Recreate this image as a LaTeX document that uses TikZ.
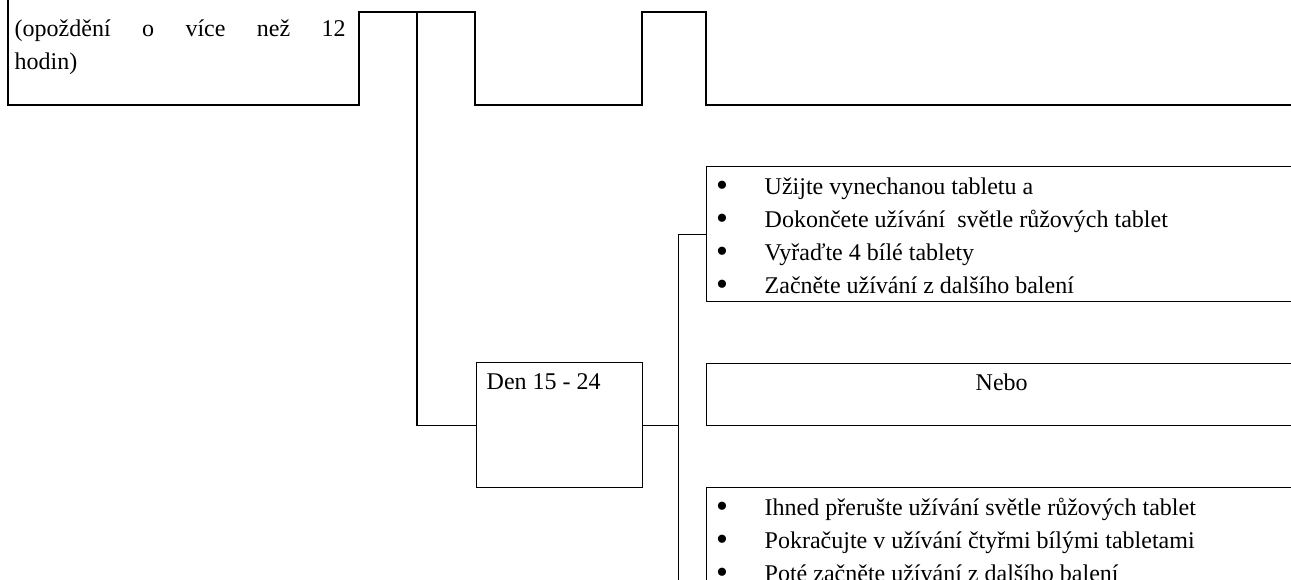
\documentclass[tikz,border=0pt]{standalone}
\usepackage{fontspec}
\setmainfont{Liberation Serif}
\usetikzlibrary{positioning}
\begin{document}
\begin{tikzpicture}[x=0.5pt,y=-0.5pt,line width=0.7pt,
  every node/.style={inner sep=0pt,font=\fontsize{12pt}{16.5pt}\selectfont},
  frame/.style={draw,anchor=north west,minimum width=295pt},
  txt/.style={anchor=base west},
  bul/.style={anchor=base},
  dot/.style={anchor=base,font=\fontsize{17pt}{17pt}\selectfont}]
\useasboundingbox (0,0) rectangle (1291,579);
\clip (0,0) rectangle (1291,579);
\draw (8,-5) -- (8,105) -- (359,105) -- (359,12) -- (475,12) -- (475,105) -- (642,105)
  -- (642,12) -- (706,12) -- (706,105) -- (1300,105);
\coordinate (ja) at (417,12);
\node [anchor=base west,text width=165.5pt,align=justify] (delay) at (14,36)
  {(opoždění o více než 12\linebreak hodin)};
\node [frame,minimum width=83pt,minimum height=62.5pt] (den) at (476,362) {};
\node [txt] (denlbl) at ([shift={(10,27)}]den.north west) {Den 15 - 24};
\node [frame,minimum height=31pt] (nebo) at (706,363) {};
\node [bul] (nebolbl) at ([shift={(0,27)}]nebo.north) {Nebo};
\node [frame,minimum height=67.5pt] (vynech) at (706,166) {};
\node [dot] at (722,196) {\textbullet};
\node [txt] at (764,194) {Užijte vynechanou tabletu a};
\node [dot] at (722,229) {\textbullet};
\node [txt] at (764,227) {Dokončete užívání\ \ světle růžových tablet};
\node [dot] at (722,262) {\textbullet};
\node [txt] at (764,260) {Vyřaďte 4 bílé tablety};
\node [dot] at (722,295) {\textbullet};
\node [txt] at (764,293) {Začněte užívání z dalšího balení};
\node [frame,minimum height=100pt] (prerus) at (706,487) {};
\node [dot] at (722,517) {\textbullet};
\node [txt] at (764,515) {Ihned přerušte užívání světle růžových tablet};
\node [dot] at (722,550) {\textbullet};
\node [txt] at (764,548) {Pokračujte v užívání čtyřmi bílými tabletami};
\node [dot] at (722,583) {\textbullet};
\node [txt] at (764,581) {Poté začněte užívání z dalšího balení};
\draw (ja) |- (den.west);
\draw (den.east) -- ++(35,0) coordinate (jb);
\draw (vynech.west) -| (jb) -- ++(0,200);
\end{tikzpicture}
\end{document}
